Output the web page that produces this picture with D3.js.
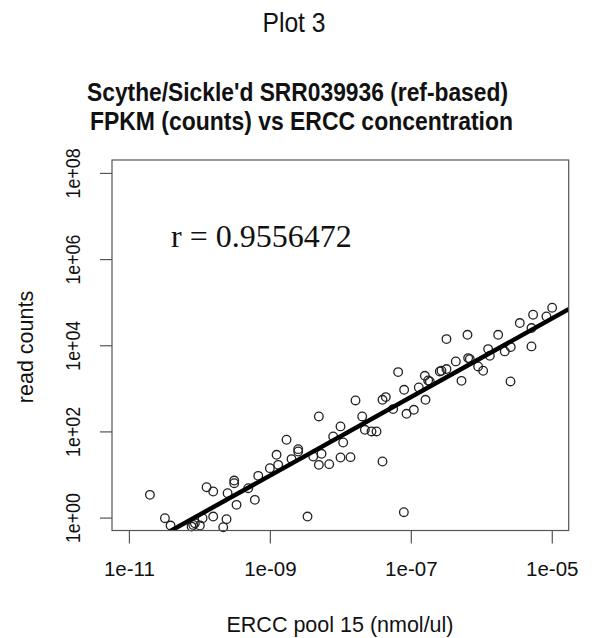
<!DOCTYPE html>
<html>
<head>
<meta charset="utf-8">
<script src="https://cdn.jsdelivr.net/npm/d3@7"></script>
<style>
  html, body { margin: 0; padding: 0; background: #fff; }
  svg { display: block; }
  text { font-family: "Liberation Sans", Arial, sans-serif; fill: #111; }
</style>
</head>
<body>
<svg id="chart" width="595" height="638"></svg>
<script>
// ERCC concentration (nmol/ul), log10 values
const concLog10 = [
  -10.702, -10.489, -10.409, -10.111, -10.064, -9.955, -9.993, -10.087, -9.898, -9.804,
  -9.804, -9.662, -9.615, -9.600, -9.506, -9.506, -9.473, -9.307, -9.213, -9.165,
  -9.000, -8.905, -8.882, -8.764, -8.693, -8.598, -8.598, -8.466, -8.385, -8.305,
  -8.305, -8.267, -8.158, -8.102, -7.998, -7.998, -7.960, -7.856, -7.785, -7.690,
  -7.652, -7.558, -7.487, -7.402, -7.402, -7.355, -7.251, -7.180, -7.099, -7.095,
  -7.061, -6.957, -6.887, -6.801, -6.792, -6.754, -6.730, -6.589, -6.565, -6.494,
  -6.494, -6.362, -6.281, -6.196, -6.187, -6.163, -6.045, -5.974, -5.903, -5.879,
  -5.761, -5.667, -5.582, -5.586, -5.454, -5.288, -5.288, -5.265, -5.076, -4.995
];
// read counts, log10 values
const countsLog10 = [
  0.527, -0.015, -0.185, -0.208, -0.131, -0.015, -0.185, -0.170, 0.705, 0.605,
  0.024, -0.225, -0.038, 0.566, 0.860, 0.798, 0.295, 0.682, 0.411, 0.969,
  1.147, 1.457, 1.224, 1.806, 1.357, 1.588, 1.534, 0.024, 1.418, 2.347,
  1.224, 1.480, 1.240, 1.883, 2.116, 1.395, 1.743, 1.403, 2.719, 2.347,
  2.037, 1.999, 1.999, 1.302, 2.734, 2.796, 2.518, 3.377, 0.125, 2.966,
  2.409, 2.502, 3.020, 3.291, 2.734, 3.182, 3.160, 3.392, 3.408, 4.143,
  3.447, 3.625, 3.174, 4.243, 3.702, 3.679, 3.508, 3.408, 3.911, 3.756,
  4.243, 3.857, 3.957, 3.160, 4.515, 4.399, 3.973, 4.708, 4.670, 4.871
];
const concentration = concLog10.map(v => Math.pow(10, v));
const readCounts = countsLog10.map(v => Math.pow(10, v));

// fitted line in log10-log10 space
const fitSlope = 0.911;
const fitIntercept = 9.173;
const rLabel = "r = 0.9556472";

const xTicks = [1e-11, 1e-9, 1e-7, 1e-5];
const xTickLabels = ["1e-11", "1e-09", "1e-07", "1e-05"];
const yTicks = [1, 1e2, 1e4, 1e6, 1e8];
const yTickLabels = ["1e+00", "1e+02", "1e+04", "1e+06", "1e+08"];

const pageTitle = "Plot 3";
const titleLines = ["Scythe/Sickle'd SRR039936 (ref-based)", "FPKM (counts) vs ERCC concentration"];
const xLabel = "ERCC pool 15 (nmol/ul)";
const yLabel = "read counts";

// ---- layout ----
const L = 112, R = 568.7, T = 160, B = 530.5;
const svg = d3.select("#chart");

const x = d3.scaleLog().domain([Math.pow(10, -11.24), Math.pow(10, -4.76)]).range([L, R]);
const y = d3.scaleLog().domain([Math.pow(10, -0.3), Math.pow(10, 8.3)]).range([B, T]);

svg.append("text").attr("x", 294).attr("y", 32.3).attr("text-anchor", "middle")
  .attr("textLength", 63).attr("lengthAdjust", "spacingAndGlyphs")
  .style("font-size", "28px").text(pageTitle);

const titleWidths = [421, 423];
svg.selectAll("text.title").data(titleLines).enter().append("text")
  .attr("class", "title")
  .attr("x", (d, i) => i === 0 ? 297.5 : 301.5).attr("y", (d, i) => 100.5 + i * 29.5)
  .attr("text-anchor", "middle")
  .attr("textLength", (d, i) => titleWidths[i]).attr("lengthAdjust", "spacingAndGlyphs")
  .style("font-size", "25.5px").style("font-weight", "bold")
  .text(d => d);

// clip
svg.append("clipPath").attr("id", "clip").append("rect")
  .attr("x", L).attr("y", T).attr("width", R - L).attr("height", B - T);

// points
svg.append("g").selectAll("circle").data(concentration).enter().append("circle")
  .attr("cx", d => x(d))
  .attr("cy", (d, i) => y(readCounts[i]))
  .attr("r", 4.3)
  .attr("fill", "none")
  .attr("stroke", "#222")
  .attr("stroke-width", 1.3);

// fit line
const xd = x.domain();
const lineData = xd.map(v => [v, Math.pow(10, fitIntercept + fitSlope * Math.log10(v))]);
svg.append("path")
  .attr("clip-path", "url(#clip)")
  .attr("d", d3.line().x(d => x(d[0])).y(d => y(d[1]))(lineData))
  .attr("stroke", "#000").attr("stroke-width", 4.5).attr("fill", "none");

// box
svg.append("rect").attr("x", L).attr("y", T).attr("width", R - L).attr("height", B - T)
  .attr("fill", "none").attr("stroke", "#555").attr("stroke-width", 1.2);

// axes
const xAxis = d3.axisBottom(x).tickValues(xTicks).tickSize(13).tickSizeOuter(0)
  .tickFormat((d, i) => xTickLabels[i]).tickPadding(18);
const gx = svg.append("g").attr("transform", `translate(0,${B})`).call(xAxis);
gx.select(".domain").remove();
gx.selectAll(".tick line").attr("stroke", "#555").attr("stroke-width", 1.2);
gx.selectAll(".tick text").style("font-size", "20.5px").attr("fill", "#111")
  .style("font-family", "'Liberation Sans', Arial, sans-serif");

const yAxis = d3.axisLeft(y).tickValues(yTicks).tickSize(12).tickSizeOuter(0)
  .tickFormat((d, i) => yTickLabels[i]);
const gy = svg.append("g").attr("transform", `translate(${L},0)`).call(yAxis);
gy.select(".domain").remove();
gy.selectAll(".tick line").attr("stroke", "#555").attr("stroke-width", 1.2);
gy.selectAll(".tick text")
  .attr("x", null).attr("dy", null)
  .attr("transform", "translate(-32,0) rotate(-90)")
  .attr("text-anchor", "middle")
  .attr("textLength", 50).attr("lengthAdjust", "spacingAndGlyphs")
  .style("font-size", "20.5px").attr("fill", "#111")
  .style("font-family", "'Liberation Sans', Arial, sans-serif");

// axis labels
svg.append("text").attr("x", 340).attr("y", 632).attr("text-anchor", "middle")
  .style("font-size", "21.5px").text(xLabel);
svg.append("text").attr("transform", "translate(33,347) rotate(-90)").attr("text-anchor", "middle")
  .style("font-size", "21.5px").text(yLabel);

// r label
svg.append("text").attr("x", 171).attr("y", 247.3)
  .style("font-family", "'Liberation Serif', 'Times New Roman', serif")
  .style("font-size", "32px").text(rLabel);
</script>
</body>
</html>
